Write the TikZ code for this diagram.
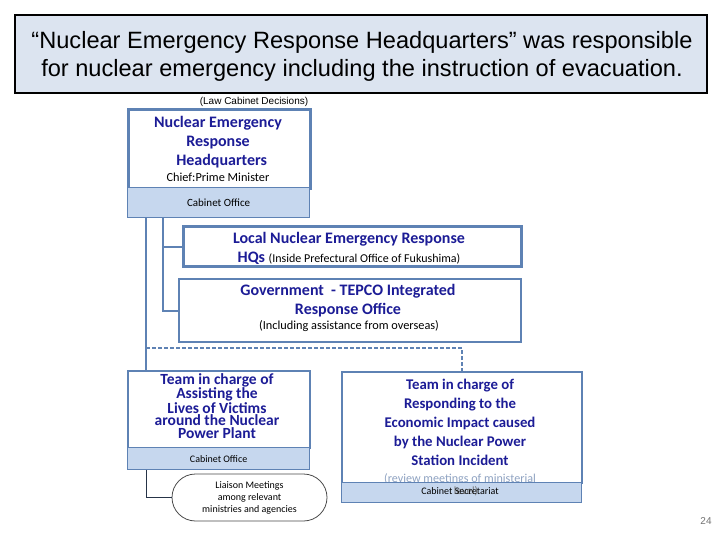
\documentclass[tikz,border=0pt]{standalone}
\usepackage{fontspec}
\setmainfont{Carlito}
\newfontfamily\arialfont{Liberation Sans}
\usetikzlibrary{shapes.misc}
\definecolor{bord}{HTML}{5E82B4}
\definecolor{bandfill}{HTML}{C6D7EE}
\definecolor{titlefill}{HTML}{DCE4F0}
\definecolor{navy}{HTML}{1C1C96}
\definecolor{faint}{HTML}{8FA3C2}
\tikzset{
  box/.style={draw=bord, line width=2pt, fill=white, anchor=north west, inner sep=0pt},
  thickbox/.style={box, line width=3pt},
  bandbox/.style={draw=bord, line width=1.2pt, fill=bandfill, anchor=north west, inner sep=0pt, font=\fontsize{11}{12}\selectfont},
  navytext/.style={text=navy, font=\bfseries\fontsize{16}{19}\selectfont, align=center, inner sep=0pt},
  smalltext/.style={font=\fontsize{12.3}{14}\selectfont, align=center, inner sep=0pt},
  conn/.style={draw=bord, line width=2pt},
  dashconn/.style={draw=bord, line width=1.5pt, dash pattern=on 4pt off 2pt},
  thinconn/.style={draw=black!60!bord, line width=0.9pt}
}
\begin{document}
\begin{tikzpicture}[x=1pt,y=-1pt]
\useasboundingbox (0,0) rectangle (720,540);
\fill[white] (0,0) rectangle (720,540);

% title
\node[draw=black, line width=2pt, fill=titlefill, anchor=north west, minimum width=692pt, minimum height=78pt, inner sep=0pt] (title) at (14,14) {};
\node[font=\arialfont\fontsize{23.6}{28}\selectfont, align=center, inner sep=0pt] (titletext) at (362,56) {“Nuclear Emergency Response Headquarters” was responsible\\for nuclear emergency including the instruction of evacuation.};

\node[font=\arialfont\fontsize{10}{11}\selectfont, inner sep=0pt] (law) at (254,102) {(Law Cabinet Decisions)};

% HQ
\node[thickbox, minimum width=182pt, minimum height=79pt] (hq) at (127,108) {};
\node[navytext] (hqtext) at (218,142) {Nuclear Emergency\\Response\\\ \ Headquarters};
\node[smalltext] (chief) at (218,177) {Chief:Prime Minister};
\node[bandbox, minimum width=182pt, minimum height=30pt] (hqco) at (127,187) {Cabinet Office};

% Local HQ
\node[thickbox, minimum width=338pt, minimum height=40pt] (local) at (182,225) {};
\node[navytext] (localtext1) at (349,239) {Local Nuclear Emergency Response};
\node[navytext, anchor=base] (localtext2) at (349,262) {HQs {\mdseries\color{black}\fontsize{12}{13}\selectfont (Inside Prefectural Office of Fukushima)}};

% Gov-TEPCO
\node[box, minimum width=342pt, minimum height=63pt] (gov) at (178,278) {};
\node[navytext] (govtext) at (348,300.5) {Government\ \ - TEPCO Integrated\\Response Office};
\node[smalltext] (govsub) at (349,326) {(Including assistance from overseas)};

% Team 1
\node[box, minimum width=182pt, minimum height=77pt] (team1) at (127,370) {};
\node[navytext, font=\bfseries\fontsize{15.5}{12.8}\selectfont] (team1text) at (217,406) {Team in charge of\\Assisting the\\Lives of Victims\\around the Nuclear\\Power Plant};
\node[bandbox, minimum width=182pt, minimum height=22pt, font=\fontsize{10}{11}\selectfont] (t1co) at (127,447) {Cabinet Office};

% Liaison
\node[rounded rectangle, draw=black!70, line width=0.8pt, minimum width=155pt, minimum height=47pt, font=\fontsize{10}{12}\selectfont, align=center, inner sep=0pt] (liaison) at (249.5,497.5) {Liaison Meetings\\among relevant\\ministries and agencies};

% Team 2
\node[box, minimum width=240pt, minimum height=111pt] (team2) at (341,371) {};
\node[navytext, font=\bfseries\fontsize{14.8}{19}\selectfont] (team2text) at (460,422.5) {Team in charge of\\Responding to the\\Economic Impact caused\\by the Nuclear Power\\Station Incident};
\node[smalltext, text=faint, font=\fontsize{12.1}{14}\selectfont] (review) at (460,479) {(review meetings of ministerial};
\node[bandbox, minimum width=240pt, minimum height=20pt] (t2co) at (341,482) {};
\node[smalltext, text=black!55, font=\fontsize{11}{12}\selectfont] (level) at (466,491) {level)};
\node[smalltext, font=\fontsize{10}{11}\selectfont] (t2cotext) at (460,491) {Cabinet Secretariat};

% page number
\node[font=\arialfont\fontsize{10}{12}\selectfont, text=black!55, inner sep=0pt] (pagenum) at (706,521) {24};

% connectors
\coordinate (s1) at ([xshift=19pt]hqco.south west);
\coordinate (s2) at ([xshift=36pt]hqco.south west);
\draw[conn] (s1) -- ([xshift=19pt]team1.north west);
\draw[conn] (s2) |- (gov.west);
\draw[conn] (s2 |- local.west) -- (local.west);
\coordinate (dj) at (146,348);
\draw[dashconn] (dj) -| (team2.north);
\draw[thinconn] ([xshift=19pt]t1co.south west) |- (liaison.west);
\end{tikzpicture}
\end{document}
